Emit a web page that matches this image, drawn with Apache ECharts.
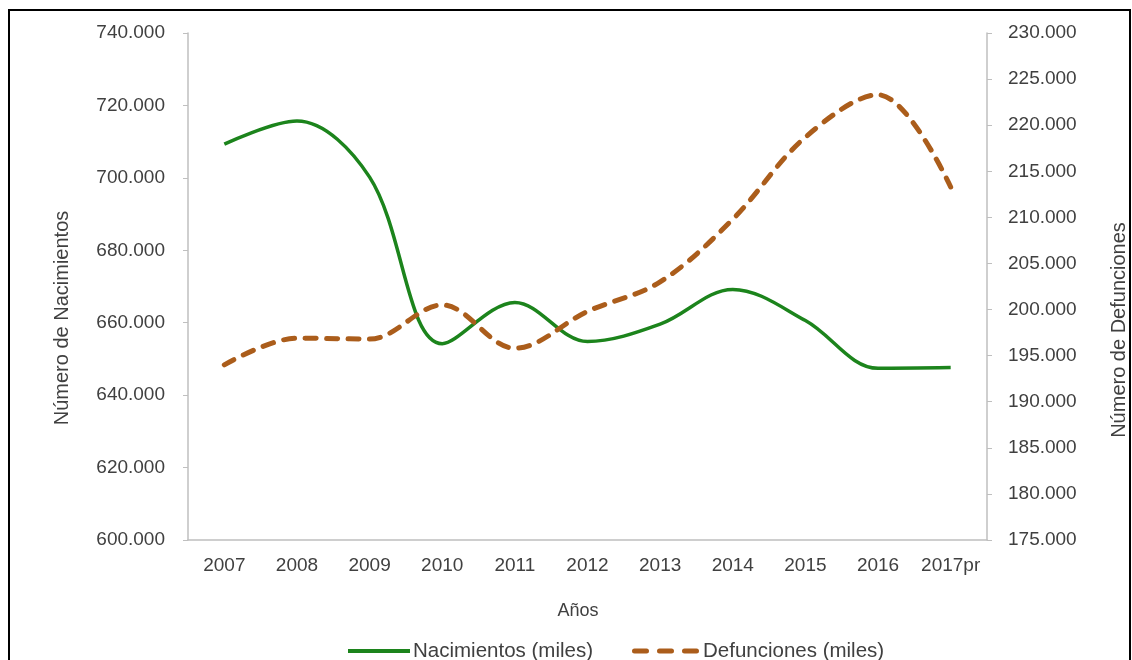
<!DOCTYPE html>
<html>
<head>
<meta charset="utf-8">
<script src="https://cdn.jsdelivr.net/npm/echarts@6/dist/echarts.min.js"></script>
<style>
  html, body { margin: 0; padding: 0; background: #ffffff; }
  #chart { width: 1132px; height: 660px; }
</style>
</head>
<body>
<div id="chart"></div>
<script>
// Years on the category axis
const years = ['2007', '2008', '2009', '2010', '2011', '2012', '2013', '2014', '2015', '2016', '2017pr'];
// Births, in thousands (left axis)
const nacimientos = [709.3, 715.7, 700.2, 654.2, 665.6, 654.8, 659.6, 669.2, 660.6, 647.4, 647.6];
// Deaths, in thousands (right axis)
const defunciones = [194.0, 196.9, 196.8, 200.5, 195.8, 199.8, 203.0, 209.8, 218.7, 223.3, 213.3];
// Axis ranges (thousands): min, max, step
const leftRange = [600, 740, 20];
const rightRange = [175, 230, 5];
// Series names shown in the legend
const seriesNames = ['Nacimientos (miles)', 'Defunciones (miles)'];

const FONT = '"Liberation Sans", Arial, sans-serif';
const TXT = '#404040';
const AXIS = '#bfbfbf';
const GREEN = '#1c841c';
const BROWN = '#ab5d1b';
const DASH = [11, 10.5];

const fmtThousands = v => Math.round(v) + '.000';

const chart = echarts.init(document.getElementById('chart'), null, { renderer: 'canvas' });

chart.setOption({
  backgroundColor: '#ffffff',
  animation: false,
  textStyle: { fontFamily: FONT, color: TXT },
  grid: { left: 188, right: 145, top: 33, bottom: 120, containLabel: false },
  xAxis: {
    type: 'category',
    data: years,
    boundaryGap: true,
    axisLine: { lineStyle: { color: AXIS, width: 1.5 } },
    axisTick: { show: false },
    axisLabel: { fontFamily: FONT, fontSize: 19, color: TXT, margin: 16, interval: 0 },
    splitLine: { show: false }
  },
  yAxis: [
    {
      type: 'value',
      min: leftRange[0], max: leftRange[1], interval: leftRange[2],
      axisLine: { show: true, lineStyle: { color: AXIS, width: 1.5 } },
      axisTick: { show: true, length: 5, lineStyle: { color: AXIS } },
      axisLabel: { fontFamily: FONT, fontSize: 19, color: TXT, margin: 23, formatter: fmtThousands },
      splitLine: { show: false }
    },
    {
      type: 'value',
      min: rightRange[0], max: rightRange[1], interval: rightRange[2],
      position: 'right',
      axisLine: { show: true, lineStyle: { color: AXIS, width: 1.5 } },
      axisTick: { show: true, length: 5, lineStyle: { color: AXIS } },
      axisLabel: { fontFamily: FONT, fontSize: 19, color: TXT, margin: 21, formatter: fmtThousands },
      splitLine: { show: false }
    }
  ],
  series: [
    {
      name: seriesNames[0],
      type: 'line',
      yAxisIndex: 0,
      data: nacimientos,
      smooth: 0.35,
      symbol: 'none',
      lineStyle: { color: GREEN, width: 3.5 },
      itemStyle: { color: GREEN }
    },
    {
      name: seriesNames[1],
      type: 'line',
      yAxisIndex: 1,
      data: defunciones,
      smooth: 0.35,
      symbol: 'none',
      lineStyle: { color: BROWN, width: 5, type: DASH, cap: 'round' },
      itemStyle: { color: BROWN }
    }
  ],
  graphic: [
    // frame around the chart
    { type: 'polyline', shape: { points: [[9, 660], [9, 10], [1130, 10], [1130, 660]] },
      style: { stroke: '#000', lineWidth: 2, fill: null } },
    // axis titles
    { type: 'text', x: 62, y: 318, rotation: Math.PI / 2,
      style: { text: 'Número de Nacimientos', font: '20px ' + FONT, fill: TXT, align: 'center', verticalAlign: 'middle' } },
    { type: 'text', x: 1119, y: 330, rotation: Math.PI / 2,
      style: { text: 'Número de Defunciones', font: '20px ' + FONT, fill: TXT, align: 'center', verticalAlign: 'middle' } },
    { type: 'text', x: 578, y: 611,
      style: { text: 'Años', font: '18px ' + FONT, fill: TXT, align: 'center', verticalAlign: 'middle' } },
    // legend
    { type: 'line', shape: { x1: 348, y1: 651, x2: 410, y2: 651 },
      style: { stroke: GREEN, lineWidth: 4 } },
    { type: 'text', x: 413, y: 651,
      style: { text: seriesNames[0], font: '20.5px ' + FONT, fill: TXT, align: 'left', verticalAlign: 'middle' } },
    { type: 'line', shape: { x1: 634.5, y1: 651, x2: 697.5, y2: 651 },
      style: { stroke: BROWN, lineWidth: 5, lineDash: [12, 13], lineCap: 'round' } },
    { type: 'text', x: 703, y: 651,
      style: { text: seriesNames[1], font: '20.5px ' + FONT, fill: TXT, align: 'left', verticalAlign: 'middle' } }
  ]
});
</script>
</body>
</html>
